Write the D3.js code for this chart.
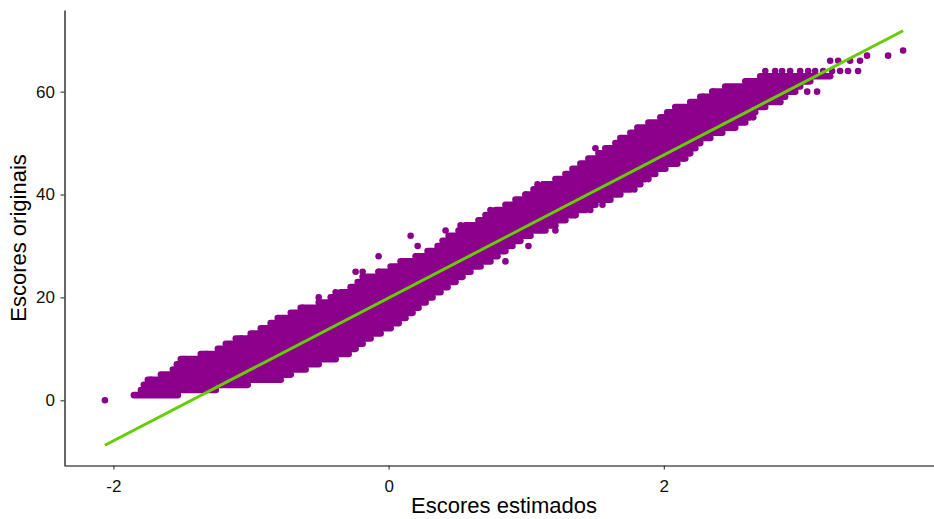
<!DOCTYPE html>
<html>
<head>
<meta charset="utf-8">
<script src="https://cdn.jsdelivr.net/npm/d3@7"></script>
<style>
    body { margin: 0; background: #fff; }
    svg text { font-family: "Liberation Sans", Arial, sans-serif; }
</style>
</head>
<body>
<div id="chart"></div>
<script>
// original score rows (integers) and the estimated-score span each row covers
const rowScores = [1, 2, 3, 4, 5, 6, 7, 8, 9, 10, 11, 12, 13, 14, 15, 16, 17, 18, 19, 20,
    21, 22, 23, 24, 25, 26, 27, 28, 29, 30, 31, 32, 33, 34, 35, 36, 37, 38, 39, 40,
    41, 42, 43, 44, 45, 46, 47, 48, 49, 50, 51, 52, 53, 54, 55, 56, 57, 58, 59, 60,
    61, 62, 63]
const rowLeft = [-1.851, -1.800, -1.779, -1.750, -1.655, -1.568, -1.539, -1.510, -1.365, -1.241,
    -1.183, -1.111, -1.002, -0.929, -0.857, -0.799, -0.711, -0.639, -0.508, -0.421,
    -0.348, -0.276, -0.225, -0.167, -0.073, 0.015, 0.087, 0.196, 0.283, 0.356,
    0.392, 0.436, 0.508, 0.559, 0.653, 0.704, 0.777, 0.849, 0.922, 0.995,
    1.053, 1.125, 1.212, 1.285, 1.336, 1.394, 1.452, 1.525, 1.575, 1.648,
    1.684, 1.757, 1.808, 1.888, 1.975, 2.025, 2.083, 2.192, 2.265, 2.352,
    2.446, 2.592, 2.701]
const rowRight = [-1.532, -1.256, -1.024, -0.784, -0.711, -0.603, -0.508, -0.385, -0.290, -0.240,
    -0.189, -0.131, -0.058, 0.015, 0.073, 0.123, 0.174, 0.218, 0.269, 0.319,
    0.377, 0.428, 0.486, 0.537, 0.595, 0.668, 0.740, 0.791, 0.849, 0.900,
    0.958, 1.031, 1.140, 1.212, 1.285, 1.358, 1.430, 1.503, 1.612, 1.684,
    1.757, 1.829, 1.866, 1.938, 2.011, 2.083, 2.156, 2.192, 2.229, 2.265,
    2.338, 2.425, 2.519, 2.592, 2.628, 2.664, 2.737, 2.846, 2.882, 2.955,
    2.991, 3.064, 3.209]

// isolated points outside the dense band
const loneX = [-2.062, -1.728, -1.655, -1.488, -1.379, -1.321, -1.074, -1.016, -0.951, -0.878,
    -0.806, -0.624, -0.508, -0.385, -0.240, -0.189, -0.189, -0.073, -0.073, 0.160,
    0.211, 0.414, 0.523, 0.617, 0.740, 0.995, 1.082, 1.125, 1.503, 2.287,
    2.359, 2.722, 2.795,
    0.849, 1.016, 1.212, 1.358, 1.466, 1.554, 1.786, 1.888, 1.960, 2.098,
    2.142, 2.534, 2.650, 2.846, 3.042, 3.114,
    2.737, 2.809, 2.860, 2.918, 2.991, 3.049, 3.100, 3.158, 3.223, 3.281, 3.339, 3.412,
    3.209, 3.267, 3.354, 3.426, 3.477, 3.630, 3.739]
const loneY = [0, 4, 4, 8, 8, 9, 12, 12, 11, 13,
    16, 18, 20, 21, 25, 25, 24, 28, 25, 32,
    30, 33, 34, 34, 37, 40, 42, 42, 49, 59,
    60, 63, 63,
    27, 30, 33, 36, 37, 38, 41, 43, 45, 46,
    47, 54, 55, 58, 60, 60,
    64, 64, 64, 64, 64, 64, 64, 64, 64, 64, 64, 64,
    66, 66, 66, 66, 67, 67, 68]

// fitted line end points
const fitX = [-2.062, 3.739]
const fitY = [-8.74, 71.84]

const xTicks = [-2, 0, 2]
const yTicks = [0, 20, 40, 60]

const W = 934, H = 519
const panel = { left: 65, right: 943, top: 10, bottom: 466 }
const pointR = 3.3
const purple = "#8B008B"
const green = "#66CD00"

const svg = d3.select("#chart").append("svg")
    .attr("width", W)
    .attr("height", H)

const xScale = d3.scaleLinear().domain([-2.352, 4.029]).range([panel.left, panel.right])
const yScale = d3.scaleLinear().domain([-12.77, 75.87]).range([panel.bottom, panel.top])

const rows = rowScores.map((v, i) => ({ v, lo: rowLeft[i], hi: rowRight[i] }))
const lone = loneX.map((x, i) => ({ x, y: loneY[i] }))

svg.append("g")
    .selectAll("line")
    .data(rows)
    .enter()
    .append("line")
        .attr("x1", (d) => xScale(d.lo))
        .attr("x2", (d) => xScale(d.hi))
        .attr("y1", (d) => yScale(d.v))
        .attr("y2", (d) => yScale(d.v))
        .attr("stroke", purple)
        .attr("stroke-width", pointR * 2)
        .attr("stroke-linecap", "round")

svg.append("g")
    .selectAll("circle")
    .data(lone)
    .enter()
    .append("circle")
        .attr("cx", (d) => xScale(d.x))
        .attr("cy", (d) => yScale(d.y))
        .attr("r", pointR)
        .attr("fill", purple)

svg.append("line")
    .attr("x1", xScale(fitX[0]))
    .attr("y1", yScale(fitY[0]))
    .attr("x2", xScale(fitX[1]))
    .attr("y2", yScale(fitY[1]))
    .attr("stroke", green)
    .attr("stroke-width", 3)

const plainNum = (d) => String(d)

const xAxis = svg.append("g")
    .attr("transform", "translate(0," + (panel.bottom - 0.5) + ")")
    .call(d3.axisBottom(xScale).tickValues(xTicks).tickSize(4).tickSizeOuter(0).tickFormat(plainNum))
const yAxis = svg.append("g")
    .attr("transform", "translate(" + (panel.left - 0.5) + ",0)")
    .call(d3.axisLeft(yScale).tickValues(yTicks).tickSize(4).tickSizeOuter(0).tickFormat(plainNum))

for (const ax of [xAxis, yAxis]) {
    ax.select(".domain").attr("stroke", "#000").attr("stroke-width", 1.2)
    ax.selectAll(".tick line").attr("stroke", "#333").attr("stroke-width", 1.1)
    ax.selectAll(".tick text")
        .attr("fill", "#111")
        .style("font-size", "17px")
}
xAxis.selectAll(".tick text").attr("dy", "1.15em")
yAxis.selectAll(".tick text").attr("dx", "-0.15em")

svg.append("text")
    .attr("x", (panel.left + panel.right) / 2)
    .attr("y", 513)
    .attr("text-anchor", "middle")
    .style("font-size", "22px")
    .attr("fill", "#000")
    .text("Escores estimados")

svg.append("text")
    .attr("transform", "translate(26," + (panel.top + panel.bottom) / 2 + ")rotate(-90)")
    .attr("text-anchor", "middle")
    .style("font-size", "22px")
    .attr("fill", "#000")
    .text("Escores originais")
</script>
</body>
</html>
